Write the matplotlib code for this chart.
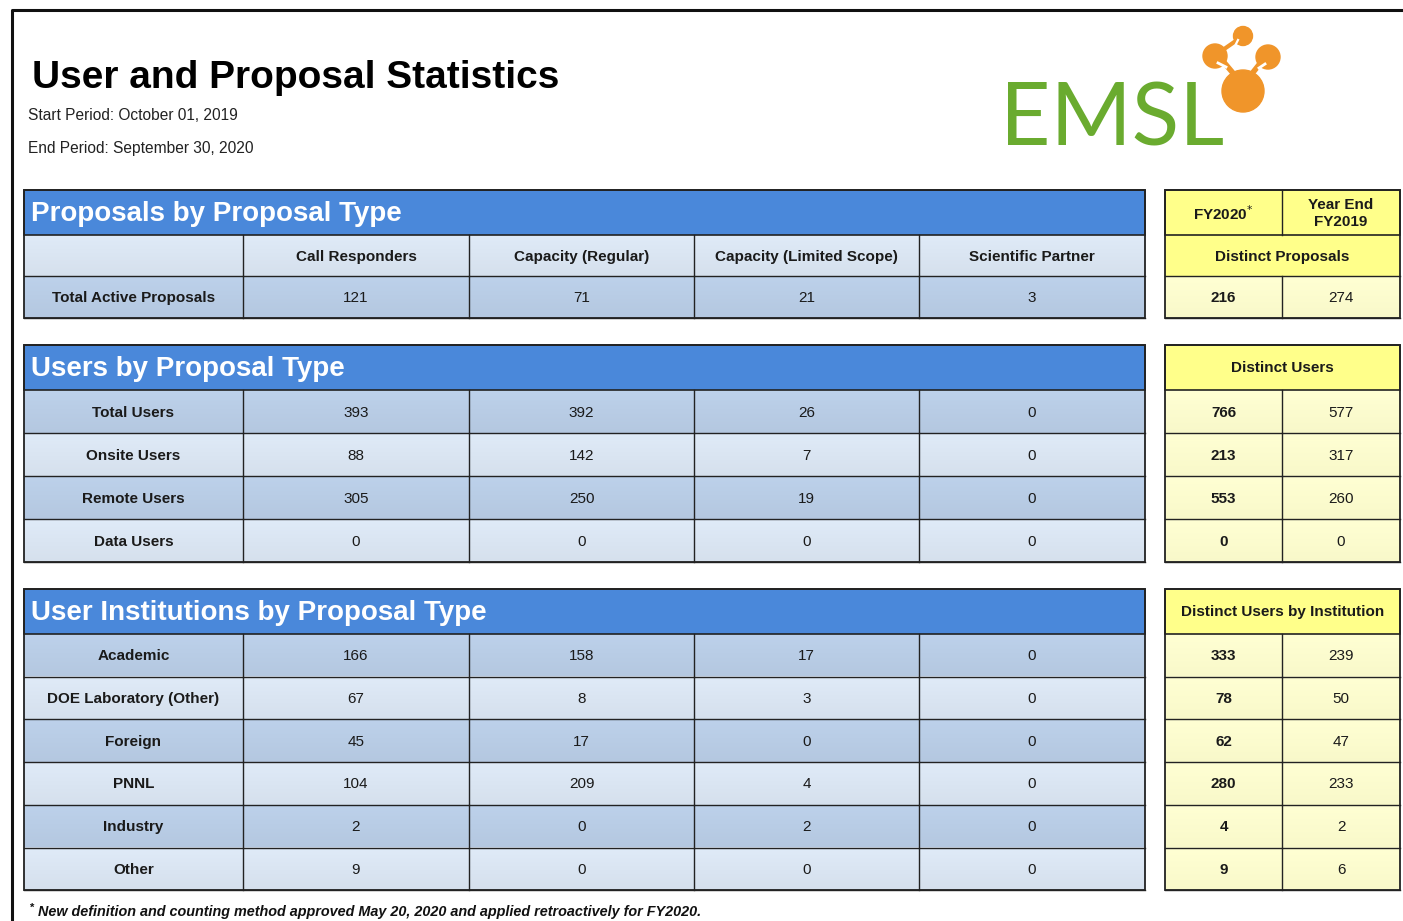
import numpy as np
import matplotlib.pyplot as plt
from matplotlib.patches import Rectangle, Circle

plt.rcParams['font.family'] = ['Liberation Sans', 'DejaVu Sans']

# ---- data ----
col_headers = ["Call Responders", "Capacity (Regular)", "Capacity (Limited Scope)", "Scientific Partner"]
fy_headers = ["FY2020$^{*}$", "Year End\nFY2019"]

proposal_rows = ["Total Active Proposals"]
proposal_vals = [[121, 71, 21, 3]]
distinct_proposals = [[216, 274]]

user_rows = ["Total Users", "Onsite Users", "Remote Users", "Data Users"]
user_vals = [[393, 392, 26, 0],
             [88, 142, 7, 0],
             [305, 250, 19, 0],
             [0, 0, 0, 0]]
distinct_users = [[766, 577], [213, 317], [553, 260], [0, 0]]

inst_rows = ["Academic", "DOE Laboratory (Other)", "Foreign", "PNNL", "Industry", "Other"]
inst_vals = [[166, 158, 17, 0],
             [67, 8, 3, 0],
             [45, 17, 0, 0],
             [104, 209, 4, 0],
             [2, 0, 2, 0],
             [9, 0, 0, 0]]
distinct_inst = [[333, 239], [78, 50], [62, 47], [280, 233], [4, 2], [9, 6]]

# ---- layout (pixels) ----
W, H = 1403, 921
col_x = [24, 243, 469, 694, 919, 1145]
yel_x = [1165, 1282, 1400]
blue_hdr = '#4a88da'
dark_row = '#b9cde6'
light_row = '#dbe6f3'
yel_hdr = '#ffff8a'
yel_row = '#ffffcf'
line_c = '#222222'

fig = plt.figure(figsize=(W / 100, H / 100), dpi=100)
ax = fig.add_axes([0, 0, 1, 1])
ax.set_xlim(0, W)
ax.set_ylim(H, 0)
ax.axis('off')


def shade(c, f):
    c = np.array(plt.matplotlib.colors.to_rgb(c))
    return np.clip(c * f, 0, 1)


def grad_rect(x0, x1, y0, y1, color):
    top = shade(color, 1.02)
    bot = shade(color, 0.975)
    t = np.linspace(0, 1, 16)[:, None, None]
    img = top * (1 - t) + bot * t
    ax.imshow(img, extent=(x0, x1, y1, y0), aspect='auto', interpolation='bilinear', zorder=1)


def cell_text(x, y, s, bold=False, size=11, color='#1a1a1a'):
    ax.text(x, y, s, ha='center', va='center', fontsize=size,
            fontweight='bold' if bold else 'normal', color=color, zorder=5)


def block(top, title, header_row, rows, vals, dist_title, dist_vals, row_h, fy_row=False):
    hdr_h = 45
    # blue title bar
    ax.add_patch(Rectangle((col_x[0], top), col_x[-1] - col_x[0], hdr_h, facecolor=blue_hdr,
                           edgecolor=line_c, lw=1.2, zorder=2))
    ax.text(col_x[0] + 7, top + hdr_h / 2 + 1, title, ha='left', va='center', fontsize=20,
            fontweight='bold', color='white', zorder=5)
    # yellow title
    ax.add_patch(Rectangle((yel_x[0], top), yel_x[-1] - yel_x[0], hdr_h, facecolor=yel_hdr,
                           edgecolor=line_c, lw=1.2, zorder=2))
    if fy_row:
        ax.plot([yel_x[1], yel_x[1]], [top, top + hdr_h], color=line_c, lw=1, zorder=3)
        for j, s in enumerate(fy_headers):
            cell_text((yel_x[j] + yel_x[j + 1]) / 2, top + hdr_h / 2 + 1, s, bold=True, size=11)
    else:
        cell_text((yel_x[0] + yel_x[-1]) / 2, top + hdr_h / 2, dist_title, bold=True, size=11)

    y = top + hdr_h
    body = []
    if header_row:
        body.append(('hdr', None))
    for i in range(len(rows)):
        body.append(('row', i))
    for k, (kind, i) in enumerate(body):
        if header_row:
            light = (k % 2 == 0)
        else:
            light = (k % 2 == 1)
        color = light_row if light else dark_row
        grad_rect(col_x[0], col_x[-1], y, y + row_h, color)
        yc = y + row_h / 2 + 1
        if kind == 'hdr':
            for j, s in enumerate(col_headers):
                cell_text((col_x[j + 1] + col_x[j + 2]) / 2, yc, s, bold=True)
            ax.add_patch(Rectangle((yel_x[0], y), yel_x[-1] - yel_x[0], row_h,
                                   facecolor=yel_hdr, lw=0, zorder=1))
            cell_text((yel_x[0] + yel_x[-1]) / 2, yc, dist_title, bold=True)
        else:
            cell_text((col_x[0] + col_x[1]) / 2, yc, rows[i], bold=True)
            for j, v in enumerate(vals[i]):
                cell_text((col_x[j + 1] + col_x[j + 2]) / 2, yc, str(v))
            grad_rect(yel_x[0], yel_x[-1], y, y + row_h, yel_row)
            cell_text((yel_x[0] + yel_x[1]) / 2, yc, str(dist_vals[i][0]), bold=True)
            cell_text((yel_x[1] + yel_x[2]) / 2, yc, str(dist_vals[i][1]))
            ax.plot([yel_x[1], yel_x[1]], [y, y + row_h], color=line_c, lw=1, zorder=3)
        # grid lines
        for xv in col_x[1:-1]:
            ax.plot([xv, xv], [y, y + row_h], color=line_c, lw=1, zorder=3)
        ax.plot([col_x[0], col_x[-1]], [y + row_h, y + row_h], color=line_c, lw=1, zorder=3)
        ax.plot([yel_x[0], yel_x[-1]], [y + row_h, y + row_h], color=line_c, lw=1, zorder=3)
        y += row_h
    # outer frames
    ax.add_patch(Rectangle((col_x[0], top), col_x[-1] - col_x[0], y - top, fill=False,
                           edgecolor=line_c, lw=1.3, zorder=4))
    ax.add_patch(Rectangle((yel_x[0], top), yel_x[-1] - yel_x[0], y - top, fill=False,
                           edgecolor=line_c, lw=1.3, zorder=4))


block(190, "Proposals by Proposal Type", True, proposal_rows, proposal_vals,
      "Distinct Proposals", distinct_proposals, 41.5, fy_row=True)
block(345, "Users by Proposal Type", False, user_rows, user_vals,
      "Distinct Users", distinct_users, 43)
block(589, "User Institutions by Proposal Type", False, inst_rows, inst_vals,
      "Distinct Users by Institution", distinct_inst, 42.7)

# ---- title area ----
ax.text(32, 78, "User and Proposal Statistics", ha='left', va='center', fontsize=28,
        fontweight='bold', color='black')
ax.text(28, 115, "Start Period: October 01, 2019", ha='left', va='center', fontsize=11.2, color='#222222')
ax.text(28, 149, "End Period: September 30, 2020", ha='left', va='center', fontsize=11.2, color='#222222')

# footnote
ax.text(30, 908, "*", ha='left', va='center', fontsize=8, fontweight='bold', color='#111111')
ax.text(38, 912, "New definition and counting method approved May 20, 2020 and applied retroactively for FY2020.",
        ha='left', va='center', fontsize=10.4, fontweight='bold', style='italic', color='#111111')

# outer page border
ax.plot([12, 12, W], [H, 10, 10], color='#111111', lw=2.2, zorder=6)

# ---- logo ----
green = '#6aab2f'
orange = '#f0952a'
ax.text(1000, 121, "EMSL", ha='left', va='center', fontsize=63, color=green,
        family=['Lato', 'DejaVu Sans'])
ax.plot([1243, 1222], [85, 60], color=orange, lw=4, solid_capstyle='round', zorder=3)
ax.plot([1243, 1262], [85, 61], color=orange, lw=4, solid_capstyle='round', zorder=3)
ax.plot([1217, 1240], [54, 38], color=orange, lw=3, solid_capstyle='round', zorder=3)
ax.add_patch(Circle((1243, 91), 21, color=orange, zorder=4))
for (cx, cy, r) in [(1215, 56, 12), (1268, 57, 12), (1243, 36, 9.5)]:
    ax.add_patch(Circle((cx, cy), r, color=orange, zorder=4))
ax.plot([1218, 1226], [63, 67], color='white', lw=2, zorder=5)
ax.plot([1265, 1259], [64, 68], color='white', lw=2, zorder=5)
ax.plot([1238, 1236], [40, 44], color='white', lw=1.6, zorder=5)

fig.savefig('out.png', dpi=100, facecolor='white')
